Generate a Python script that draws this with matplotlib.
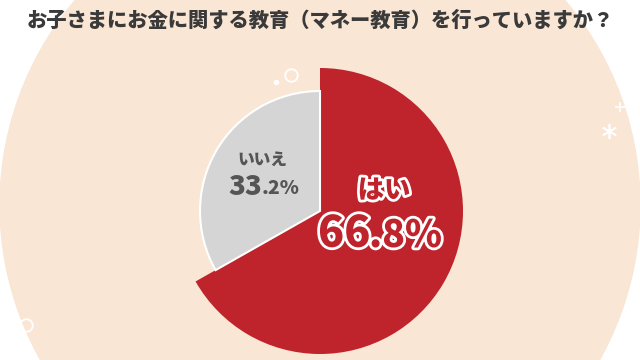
import matplotlib
matplotlib.use("Agg")
import matplotlib.pyplot as plt
import matplotlib.patheffects as pe
from matplotlib.patches import Ellipse

plt.rcParams['font.family'] = ['Noto Sans CJK JP', 'DejaVu Sans']

title = "お子さまにお金に関する教育（マネー教育）を行っていますか？"
categories = ["はい", "いいえ"]
values = [66.8, 33.2]
colors = ["#BF232C", "#D5D5D5"]

W, H = 640, 360
fig = plt.figure(figsize=(6.4, 3.6), dpi=100)
ax = fig.add_axes([0, 0, 1, 1])
ax.set_xlim(0, W)
ax.set_ylim(0, H)
ax.axis('off')

def Y(y):
    return H - y

# background disc
ax.add_patch(Ellipse((320, Y(205)), 2 * 320, 2 * 318, color="#FAE6D4", zorder=0))

cx, cy = 320, Y(211)
# outer (はい) wedge
w1, _ = ax.pie(values, radius=143, center=(cx, cy), startangle=90, counterclock=False,
               colors=[colors[0], "none"], wedgeprops=dict(linewidth=0), frame=True)
# inner (いいえ) wedge
w2, _ = ax.pie(values, radius=120, center=(cx, cy), startangle=90, counterclock=False,
               colors=["none", colors[1]], wedgeprops=dict(edgecolor="white", linewidth=1.5),
               frame=True)
w2[0].set_edgecolor("none")
for w in w1 + w2:
    w.set_zorder(2)
w2[1].set_zorder(3)
ax.set_xlim(0, W)
ax.set_ylim(0, H)
ax.set_aspect('auto')
ax.axis('off')

# title
ax.text(320, Y(21), title, ha='center', va='center', fontsize=14.6, fontweight='heavy',
        color="#3A3A3A", zorder=5)

# labels
stroke = [pe.withStroke(linewidth=4, foreground="white")]
ax.text(384, Y(190), categories[0], ha='center', va='center', fontsize=19, fontweight='heavy',
        color=colors[0], path_effects=stroke, zorder=5)
big = f"{values[0]:.1f}".split(".")
ax.text(318, Y(234), big[0], ha='left', va='center', fontsize=31, fontweight='heavy',
        color=colors[0], path_effects=stroke, zorder=5)
ax.text(369, Y(236), "." + big[1] + "%", ha='left', va='center', fontsize=27, fontweight='heavy',
        color=colors[0], path_effects=stroke, zorder=5)

gray_txt = "#555555"
ax.text(262, Y(160), categories[1], ha='center', va='center', fontsize=12, fontweight='heavy',
        color=gray_txt, zorder=5)
sm = f"{values[1]:.1f}".split(".")
ax.text(228, Y(187), sm[0], ha='left', va='center', fontsize=20, fontweight='heavy',
        color=gray_txt, zorder=5)
ax.text(262, Y(189), "." + sm[1] + "%", ha='left', va='center', fontsize=14, fontweight='heavy',
        color=gray_txt, zorder=5)

# decorations
ax.plot([291], [Y(75)], marker='o', markersize=9, markerfacecolor='none',
        markeredgecolor='white', markeredgewidth=1.3, zorder=4)
ax.plot([276], [Y(82)], marker='o', markersize=3, color='white', zorder=4)
ax.plot([26], [Y(325)], marker='o', markersize=9, markerfacecolor='none',
        markeredgecolor='white', markeredgewidth=1.3, zorder=4)
ax.plot([609], [Y(131)], marker=(6, 2, 0), markersize=11, color='white', markeredgewidth=1.2, zorder=4)
ax.plot([620], [Y(107)], marker='+', markersize=7, color='white', markeredgewidth=1.2, zorder=4)

fig.savefig("out.png", dpi=100, facecolor="white")
